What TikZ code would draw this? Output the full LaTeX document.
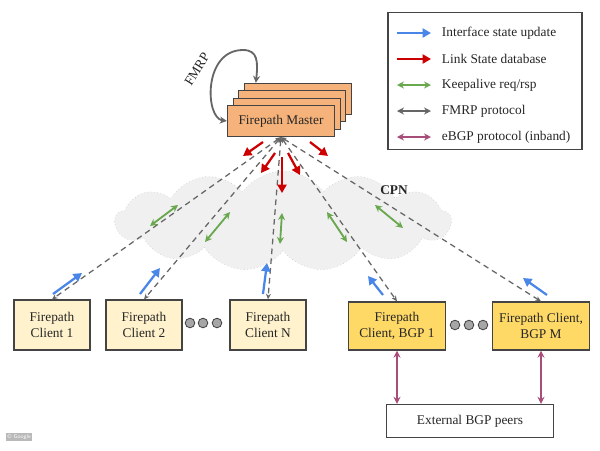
\documentclass[tikz,border=0pt]{standalone}
\usepackage{fontspec}
\setmainfont{Liberation Serif}
\usetikzlibrary{arrows.meta,shapes.symbols,calc}

\definecolor{ifblue}{HTML}{4A86E8}
\definecolor{lsred}{HTML}{CC0000}
\definecolor{kagreen}{HTML}{6AA84F}
\definecolor{fmgray}{HTML}{666666}
\definecolor{bgppurple}{HTML}{A64D79}
\definecolor{boxline}{HTML}{444444}
\definecolor{masterfill}{HTML}{F5B27A}
\definecolor{clientfill}{HTML}{FFF2CC}
\definecolor{bgpfill}{HTML}{FFD966}

\tikzset{
    txt/.style={font=\fontsize{9.5}{11}\selectfont, text=black!85},
    masterbox/.style={draw=boxline, fill=masterfill, line width=0.9pt, minimum width=26.75mm, minimum height=7.75mm, inner sep=0pt, txt},
    client/.style={draw=boxline, fill=clientfill, line width=0.9pt, minimum width=19mm, minimum height=12.5mm, inner sep=0pt, align=center, txt},
    bgpclient/.style={client, fill=bgpfill, minimum width=24.25mm, minimum height=12mm},
    fmrpline/.style={draw=fmgray, line width=0.9pt, dash pattern=on 4pt off 3pt, {Stealth[length=4pt,width=3.5pt]}-{Stealth[length=4pt,width=3.5pt]}},
    fmrp/.style={fmgray, line width=1.3pt, {Stealth[length=5pt,width=5pt]}-{Stealth[length=5pt,width=5pt]}},
    upd/.style={ifblue, line width=1.6pt, -{Triangle[length=6pt,width=6.5pt]}},
    lsdb/.style={lsred, line width=1.6pt, -{Triangle[length=6pt,width=6.5pt]}},
    kalive/.style={kagreen, line width=1.3pt, {Stealth[length=5pt,width=5pt]}-{Stealth[length=5pt,width=5pt]}},
    ebgp/.style={bgppurple, line width=1.3pt, {Stealth[length=5pt,width=5pt]}-{Stealth[length=5pt,width=5pt]}},
    dot/.style={circle, draw=boxline, fill=gray!70, line width=0.6pt, inner sep=0pt, minimum size=2.4mm}
}

\begin{document}
\begin{tikzpicture}[x=0.025cm, y=-0.025cm]
    \useasboundingbox (0,0) rectangle (600,450);

    % CPN cloud
    \node[cloud, cloud puffs=13, cloud puff arc=110, aspect=3.3, draw=gray!45, dotted, fill=gray!12, minimum width=8.4cm, minimum height=2.5cm, inner sep=0pt] (cpn) at (283,221) {};
    \node[txt, font=\fontsize{9.5}{11}\selectfont\bfseries] (cpnlbl) at (394,190) {CPN};

    % master stack
    \node[masterbox] (m3) at (298,99) {};
    \node[masterbox] (m2) at (292,106) {};
    \node[masterbox] (m1) at (287,114) {};
    \node[masterbox] (m0) at (281,121) {Firepath Master};

    \draw[fmrp] (m0.west) .. controls (205,118) and (203,50) .. (243,50) .. controls (258,50) and (258,62) .. ($(m3.north west)+(12,0)$);
    \node[txt, rotate=58] (fmrplbl) at (197,69) {FMRP};

    % clients
    \node[client] (c1) at (52,325) {Firepath\\Client 1};
    \node[client] (c2) at (144,325) {Firepath\\Client 2};
    \node[client] (cN) at (268,325) {Firepath\\Client N};
    \node[bgpclient] (b1) at (397,326) {Firepath\\Client, BGP 1};
    \node[bgpclient] (bM) at (541,326) {Firepath Client,\\BGP M};
    \node[draw=boxline, fill=white, line width=0.9pt, minimum width=41.75mm, minimum height=8.25mm, txt] (ext) at (470,421) {External BGP peers};

    \foreach \x in {190,203,217} \node[dot] at (\x,323) {};
    \foreach \x in {455,469,483} \node[dot] at (\x,325) {};

    % master <-> clients
    \foreach \c in {c1,c2,cN,b1,bM}
        \draw[fmrpline] (m0.south) -- (\c.north);

    \draw[ebgp] (b1.south) -- (b1.south |- ext.north);
    \draw[ebgp] (bM.south) -- (bM.south |- ext.north);

    % interface state updates
    \draw[upd] (53,294) -- (82,273);
    \draw[upd] (140,294) -- (160,268);
    \draw[upd] (263,294) -- (267,263);
    \draw[upd] (383,295) -- (368,276);
    \draw[upd] (547,295) -- (523,278);

    % link state database
    \draw[lsdb] (263,142) -- (243,156);
    \draw[lsdb] (275,153) -- (261,173);
    \draw[lsdb] (282,157) -- (282,193);
    \draw[lsdb] (288,153) -- (300,175);
    \draw[lsdb] (310,142) -- (328,156);

    % keepalives
    \draw[kalive] (150,226) -- (178,205);
    \draw[kalive] (205,242) -- (230,212);
    \draw[kalive] (280,244) -- (282,213);
    \draw[kalive] (327,212) -- (347,242);
    \draw[kalive] (375,205) -- (403,228);

    % legend
    \node[draw=boxline, fill=white, line width=0.9pt, minimum width=48.5mm, minimum height=34.25mm, inner sep=0pt] (legend) at (485,81) {};
    \coordinate (la1) at (397,33);  \coordinate (lb1) at (431,33);
    \coordinate (la2) at (397,59);  \coordinate (lb2) at (431,59);
    \coordinate (la3) at (397,85);  \coordinate (lb3) at (431,85);
    \coordinate (la4) at (397,111); \coordinate (lb4) at (431,111);
    \coordinate (la5) at (397,137); \coordinate (lb5) at (431,137);
    \draw[upd] (la1) -- (lb1);
    \draw[lsdb] (la2) -- (lb2);
    \draw[kalive] (la3) -- (lb3);
    \draw[fmrp] (la4) -- (lb4);
    \draw[ebgp] (la5) -- (lb5);
    \node[txt, anchor=west] (l1) at (437,33) {Interface state update};
    \node[txt, anchor=west] (l2) at (437,59) {Link State database};
    \node[txt, anchor=west] (l3) at (437,85) {Keepalive req/rsp};
    \node[txt, anchor=west] (l4) at (437,111) {FMRP protocol};
    \node[txt, anchor=west] (l5) at (437,137) {eBGP protocol (inband)};

    % watermark
    \node[fill=gray!55, text=white, font=\sffamily\fontsize{4}{5}\selectfont, inner sep=1pt, anchor=west] (wm) at (6,437) {\textcopyright\ Google};
\end{tikzpicture}
\end{document}
